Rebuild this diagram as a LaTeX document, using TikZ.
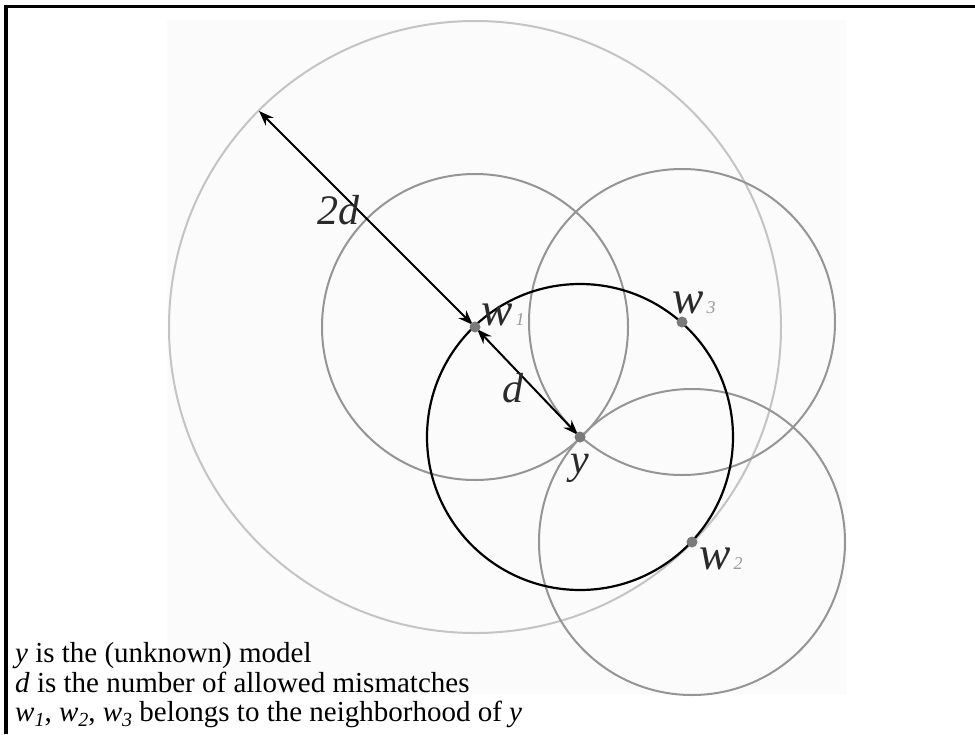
\documentclass[tikz,border=0pt]{standalone}
\usepackage{fontspec}
\setmainfont{Liberation Serif}
\usetikzlibrary{arrows.meta}
\definecolor{bgc}{HTML}{FBFBFB}
\definecolor{bigc}{HTML}{C4C4C4}
\definecolor{midc}{HTML}{959595}
\definecolor{dotc}{HTML}{7A7A7A}
\definecolor{lblc}{HTML}{2A2A2A}
\definecolor{subc}{HTML}{9A9A9A}
\newcommand\wlbl[2]{{\fontsize{47}{47}\selectfont\textit{#1}}\hspace{3pt}\raisebox{0pt}{\fontsize{18}{18}\selectfont\color{subc}\textit{#2}}}
\newcommand\nsub[1]{\raisebox{-5pt}{\fontsize{20}{20}\selectfont\textit{#1}}}
\begin{document}
\begin{tikzpicture}[x=1pt,y=-1pt,
  framel/.style={line width=3.5pt,line join=miter},
  bigcirc/.style={draw=bigc,line width=2pt},
  midcirc/.style={draw=midc,line width=2pt},
  ycirc/.style={draw=black,line width=2.2pt},
  dist/.style={line width=2pt,{Stealth[length=15pt,width=11pt]}-{Stealth[length=15pt,width=11pt]}},
  ptdot/.style={fill=dotc},
  lbl/.style={anchor=base west,inner sep=0pt,text=lblc,font=\fontsize{42}{42}\selectfont},
  note/.style={anchor=base west,inner sep=0pt,font=\fontsize{29}{29}\selectfont}]
\useasboundingbox (0,0) rectangle (975,734);
\fill[white] (0,0) rectangle (975,734);
\fill[bgc] (167,20) rectangle (847,694);
\draw[framel] (6,734) -- (6,6.5) -- (975,6.5);
\coordinate (W1) at (475,327);
\coordinate (Y) at (580,437);
\coordinate (W3) at (682,322);
\coordinate (W2) at (692,542);
\coordinate (P) at (259,111);
% circles
\draw[bigcirc] (W1) circle[radius=306pt];
\draw[midcirc] (W1) circle[radius=153pt];
\draw[midcirc] (W3) circle[radius=153pt];
\draw[midcirc] (W2) circle[radius=153pt];
\draw[ycirc] (Y) circle[radius=153pt];
% distances
\draw[dist,shorten >=3pt] (P) -- (W1);
\draw[dist,shorten >=3pt,shorten <=3pt] (W1) -- (Y);
% points
\fill[ptdot] (W1) circle[radius=5.5pt];
\fill[ptdot] (Y) circle[radius=5.5pt];
\fill[ptdot] (W3) circle[radius=5.5pt];
\fill[ptdot] (W2) circle[radius=5.5pt];
% labels
\node[lbl] (l2d) at (317,224) {\textit{2d}};
\node[lbl] (ld) at (502,402) {\textit{d}};
\node[lbl] (ly) at (570,473) {\textit{y}};
\node[lbl] (lw1) at (481,325) {\wlbl{w}{1}};
\node[lbl] (lw3) at (672,313) {\wlbl{w}{3}};
\node[lbl] (lw2) at (699,569) {\wlbl{w}{2}};
% notes
\node[note] (n1) at (15,662) {\textit{y} is the (unknown) model};
\node[note] (n2) at (15,692) {\textit{d} is the number of allowed mismatches};
\node[note] (n3) at (15,721) {\textit{w}\nsub{1}, \textit{w}\nsub{2}, \textit{w}\nsub{3} belongs to the neighborhood of \textit{y}};
\end{tikzpicture}
\end{document}
